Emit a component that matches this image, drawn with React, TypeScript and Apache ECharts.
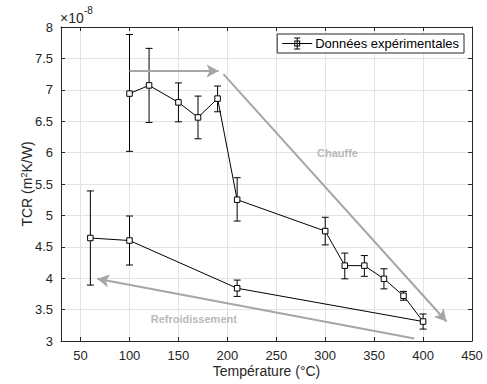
import React, { useEffect, useRef } from "react";
import * as echarts from "echarts";

// Temperatures (°C) in measurement order (heating then cooling)
const temps = [100, 120, 150, 170, 190, 210, 300, 320, 340, 360, 380, 400, 210, 100, 60];
// TCR values (×1e-8 m²K/W)
const tcr = [6.94, 7.07, 6.8, 6.56, 6.86, 5.25, 4.75, 4.2, 4.2, 3.99, 3.72, 3.31, 3.84, 4.6, 4.64];
const errLow = [6.02, 6.48, 6.49, 6.22, 6.65, 4.91, 4.53, 3.99, 4.03, 3.83, 3.65, 3.19, 3.71, 4.21, 3.89];
const errHigh = [7.88, 7.66, 7.11, 6.9, 7.06, 5.6, 4.97, 4.4, 4.36, 4.15, 3.79, 3.43, 3.97, 4.99, 5.39];

const xRange = { min: 30, max: 450 };
const yTicks = { min: 3, max: 8, interval: 0.5 };

// Annotation arrows [from, to] in data coordinates
const arrowHeat1 = [[100, 7.3], [191, 7.3]];
const arrowHeat2 = [[196, 7.25], [424, 3.31]];
const arrowCool = [[391, 3.04], [67, 3.99]];
const notes = [
  { name: "Chauffe", value: [312.5, 6.0] },
  { name: "Refroidissement", value: [165.7, 3.35] },
];

const LEGEND = "Données expérimentales";
const FONT = "'Liberation Sans', Arial, Helvetica, sans-serif";
const AX = "#262626";
const GRAY = "#a6a6a6";

export default function App() {
  const ref = useRef<HTMLDivElement>(null);
  useEffect(() => {
    const chart = echarts.init(ref.current!, null, { renderer: "svg" });
    const lineData = temps.map((t, i) => [t, tcr[i]]);
    const errData = temps.map((t, i) => [t, tcr[i], errLow[i], errHigh[i]]);
    const iconPath =
      "path://M0 5.5H30V6.5H0Z M14.5 0H15.5V12H14.5Z M12 0H18V1H12Z M12 11H18V12H12Z M12 3H18V9H12Z M13 4V8H17V4Z";
    const xBase = {
      type: "value",
      min: xRange.min,
      max: xRange.max,
      splitNumber: 8,
    };
    const yBase = { type: "value", min: yTicks.min, max: yTicks.max, interval: yTicks.interval };
    chart.setOption({
      animation: false,
      textStyle: { fontFamily: FONT },
      grid: { left: 61, right: 15, top: 27, bottom: 43 },
      legend: {
        data: [LEGEND],
        right: 23,
        top: 34,
        icon: iconPath,
        itemWidth: 30,
        itemHeight: 12,
        itemGap: 4,
        padding: [3, 5, 3, 5],
        borderColor: AX,
        borderWidth: 1,
        borderRadius: 0,
        backgroundColor: "#fff",
        textStyle: { fontFamily: FONT, fontSize: 13, color: "#000", padding: [0, 0, 0, -2] },
        itemStyle: { color: "#000" },
      },
      xAxis: [
        {
          ...xBase,
          position: "bottom",
          name: "Température (°C)",
          nameLocation: "middle",
          nameGap: 23,
          nameMoveOverlap: false,
          nameTextStyle: { fontSize: 14, color: AX, fontFamily: FONT },
          axisLine: { show: true, onZero: false, lineStyle: { color: AX, width: 1 } },
          axisTick: { show: true, inside: true, length: 4, lineStyle: { color: AX } },
          axisLabel: { fontSize: 13, color: AX, margin: 8, fontFamily: FONT, showMinLabel: false },
          splitLine: { show: true, lineStyle: { color: "#e3e3e3", width: 1 } },
        },
        {
          ...xBase,
          position: "top",
          axisLine: { show: true, onZero: false, lineStyle: { color: AX, width: 1 } },
          axisTick: { show: true, inside: true, length: 4, lineStyle: { color: AX } },
          axisLabel: { show: false },
          splitLine: { show: false },
        },
      ],
      yAxis: [
        {
          ...yBase,
          position: "left",
          name: "{a|TCR (m}{s|2}{a|K/W)}",
          nameLocation: "middle",
          nameGap: 27,
          nameMoveOverlap: false,
          nameTextStyle: {
            color: AX,
            rich: {
              a: { fontSize: 14, color: AX, fontFamily: FONT },
              s: { fontSize: 9, color: AX, fontFamily: FONT, verticalAlign: "top", padding: [0, 0, 6, 0] },
            },
          },
          axisLine: { show: true, onZero: false, lineStyle: { color: AX, width: 1 } },
          axisTick: { show: true, inside: true, length: 4, lineStyle: { color: AX } },
          axisLabel: { fontSize: 13, color: AX, margin: 8, fontFamily: FONT },
          splitLine: { show: true, lineStyle: { color: "#e3e3e3", width: 1 } },
        },
        {
          ...yBase,
          position: "right",
          axisLine: { show: true, onZero: false, lineStyle: { color: AX, width: 1 } },
          axisTick: { show: true, inside: true, length: 4, lineStyle: { color: AX } },
          axisLabel: { show: false },
          splitLine: { show: false },
        },
      ],
      graphic: [
        { type: "text", left: 60, top: 11, style: { text: "×10", fontSize: 14, fill: AX, fontFamily: FONT } },
        { type: "text", left: 84, top: 5, style: { text: "-8", fontSize: 10, fill: AX, fontFamily: FONT } },
      ],
      series: [
        {
          type: "custom",
          name: LEGEND,
          itemStyle: { color: "#000" },
          data: errData,
          z: 3,
          renderItem: (params: any, api: any) => {
            const x = api.value(0);
            const lo = api.coord([x, api.value(2)]);
            const hi = api.coord([x, api.value(3)]);
            const w = 3.5;
            const st = { stroke: "#000", lineWidth: 1 };
            return {
              type: "group",
              children: [
                { type: "line", shape: { x1: lo[0], y1: lo[1], x2: hi[0], y2: hi[1] }, style: st },
                { type: "line", shape: { x1: lo[0] - w, y1: lo[1], x2: lo[0] + w, y2: lo[1] }, style: st },
                { type: "line", shape: { x1: hi[0] - w, y1: hi[1], x2: hi[0] + w, y2: hi[1] }, style: st },
              ],
            };
          },
        },
        {
          type: "line",
          name: "tcr",
          data: lineData,
          z: 4,
          symbol: "rect",
          symbolSize: 5.5,
          showAllSymbol: true,
          lineStyle: { color: "#000", width: 1 },
          itemStyle: { color: "#fff", borderColor: "#000", borderWidth: 1 },
          markLine: {
            silent: true,
            symbol: ["none", "arrow"],
            symbolSize: [10, 12],
            label: { show: false },
            lineStyle: { color: GRAY, width: 2, type: "solid" },
            data: [
              [{ coord: arrowHeat1[0] }, { coord: arrowHeat1[1] }],
              [{ coord: arrowHeat2[0] }, { coord: arrowHeat2[1] }],
              [{ coord: arrowCool[0] }, { coord: arrowCool[1] }],
            ],
          },
        },
        {
          type: "scatter",
          name: "notes",
          data: notes,
          symbolSize: 1,
          itemStyle: { color: "rgba(0,0,0,0)" },
          label: {
            show: true,
            position: "inside",
            formatter: "{b}",
            color: GRAY,
            fontWeight: "bold",
            fontSize: 11,
            fontFamily: FONT,
          },
        },
      ],
    });
    return () => chart.dispose();
  }, []);
  return <div ref={ref} style={{ position: "absolute", left: 0, top: 0, width: 487, height: 384 }} />;
}
